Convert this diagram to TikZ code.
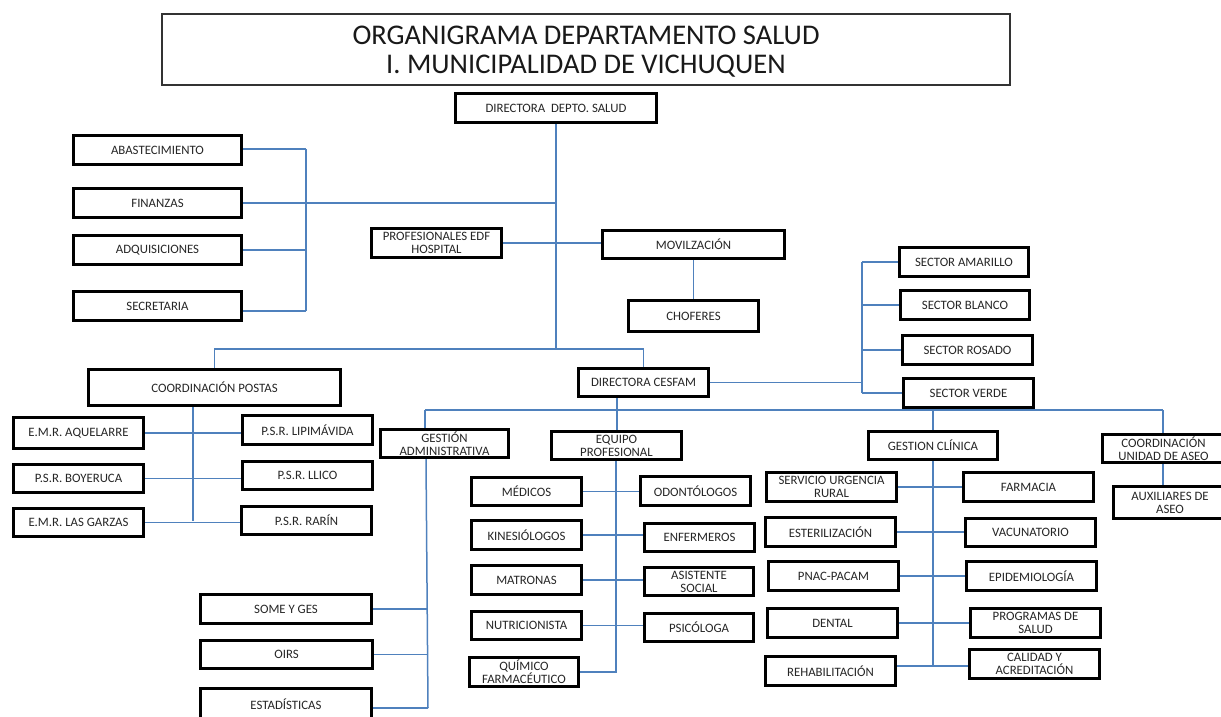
\documentclass[tikz,border=0pt]{standalone}
\usepackage{fontspec}
\setmainfont{Carlito}
\definecolor{lineblue}{HTML}{4F81BD}
\definecolor{txt}{HTML}{262626}
\tikzset{
  bx/.style={draw=black, line width=3pt, fill=white, inner sep=0pt, align=center,
    text=txt, font=\fontsize{12.8}{13.2}\selectfont},
  conn/.style={draw=lineblue, line width=1.5pt},
  titlebox/.style={draw=black!80, line width=1.2pt, align=center, text=black!90,
    font=\fontsize{28.5}{29}\selectfont}
}
\newcommand\ob[6]{\node[bx,minimum width={#4-#2-3},minimum height={#5-#3-3}] (#1) at ({(#2+#4)/2},{(#3+#5)/2}) {#6};}
\begin{document}
\begin{tikzpicture}[x=1pt,y=-1pt]
\useasboundingbox (0,0) rectangle (1221,717);
\node[titlebox, minimum width=848, minimum height=71] (title) at (586,49.5) {\rule{0pt}{22pt}ORGANIGRAMA DEPARTAMENTO SALUD\\I. MUNICIPALIDAD DE VICHUQUEN};
% junction coordinates
\coordinate (t1) at (556,349);
\coordinate (jl) at (306,149);
\coordinate (pv) at (193,521);
\coordinate (sv) at (862,262);
\coordinate (gaj) at (425,410);
\coordinate (gav) at (428,708);
\coordinate (caj) at (1163,410);
\coordinate (gcj) at (933,410);
% connectors (behind boxes)
\draw[conn] (556,124) -- (t1);
\draw[conn] (jl) -- (306,311);
\draw[conn] (243,149) -- (jl);
\draw[conn] (243,203) -- (556,203);
\draw[conn] (243,250) -- (306,250);
\draw[conn] (243,311) -- (306,311);
\draw[conn] (t1) -| (214.5,368);
\draw[conn] (t1) -| (643.5,367);
\draw[conn] (193,407) -- (pv);
\draw[conn] (gaj) -- (caj);
\draw[conn] (617,398) -- (617,430);
\draw[conn] (gaj) -- (425,428);
\draw[conn] (gcj) -- (933,430);
\draw[conn] (caj) -- (1163,485);
\draw[conn] (862,262) -- (862,393);
\draw[conn] (426,459) -- (gav);
\draw[conn] (616,461) -- (616,673);
\draw[conn] (933,461) -- (933,666);
% boxes
\ob{dds}{454}{92}{658}{124}{DIRECTORA~~DEPTO. SALUD}
\ob{abas}{72}{134}{243}{166}{ABASTECIMIENTO}
\ob{fin}{72}{187}{243}{219}{FINANZAS}
\ob{adq}{72}{234}{243}{266}{ADQUISICIONES}
\ob{secr}{72}{290}{243}{322}{SECRETARIA}
\ob{prof}{370}{227}{503}{259}{PROFESIONALES EDF\\HOSPITAL}
\ob{mov}{601}{229}{786}{260}{MOVILZACIÓN}
\ob{chof}{627}{299}{760}{333}{CHOFERES}
\ob{cp}{87}{368}{342}{407}{COORDINACIÓN POSTAS}
\ob{dc}{577}{367}{710}{398}{DIRECTORA CESFAM}
\ob{aq}{12}{416}{145}{450}{E.M.R. AQUELARRE}
\ob{boy}{12}{463}{145}{494}{P.S.R. BOYERUCA}
\ob{garz}{12}{507}{145}{538}{E.M.R. LAS GARZAS}
\ob{lip}{241}{414}{374}{446}{P.S.R. LIPIMÁVIDA}
\ob{llico}{241}{460}{374}{491}{P.S.R. LLICO}
\ob{rarin}{240}{505}{373}{536}{P.S.R. RARÍN}
\ob{sa}{898}{246}{1030}{278}{SECTOR AMARILLO}
\ob{sb}{899}{289}{1031}{321}{SECTOR BLANCO}
\ob{sr}{901}{334}{1034}{366}{SECTOR ROSADO}
\ob{sver}{902}{377}{1035}{409}{SECTOR VERDE}
\ob{ga}{379}{428}{510}{459}{GESTIÓN\\ADMINISTRATIVA}
\ob{ep}{550}{430}{683}{461}{EQUIPO\\PROFESIONAL}
\ob{gc}{867}{430}{999}{461}{GESTION CLÍNICA}
\ob{ca}{1101}{433}{1226}{464}{COORDINACIÓN\\UNIDAD DE ASEO}
\ob{aux}{1112}{485}{1228}{520}{AUXILIARES DE\\ASEO}
\ob{some}{199}{593}{373}{625}{SOME Y GES}
\ob{oirs}{199}{639}{374}{670}{OIRS}
\ob{est}{199}{687}{373}{721}{ESTADÍSTICAS}
\ob{med}{470}{476}{583}{507}{MÉDICOS}
\ob{odo}{639}{475}{752}{507}{ODONTÓLOGOS}
\ob{kin}{470}{519}{583}{551}{KINESIÓLOGOS}
\ob{enf}{643}{522}{756}{553}{ENFERMEROS}
\ob{mat}{470}{564}{583}{596}{MATRONAS}
\ob{asis}{643}{566}{755}{597}{ASISTENTE\\SOCIAL}
\ob{nut}{470}{610}{583}{641}{NUTRICIONISTA}
\ob{psi}{643}{612}{755}{643}{PSICÓLOGA}
\ob{qui}{468}{656}{580}{688}{QUÍMICO\\FARMACÉUTICO}
\ob{sur}{765}{471}{898}{503}{SERVICIO URGENCIA\\RURAL}
\ob{farm}{962}{471}{1095}{503}{FARMACIA}
\ob{este}{764}{516}{897}{548}{ESTERILIZACIÓN}
\ob{vac}{964}{517}{1097}{548}{VACUNATORIO}
\ob{pnac}{767}{560}{900}{592}{PNAC-PACAM}
\ob{epi}{965}{560}{1098}{592}{EPIDEMIOLOGÍA}
\ob{dent}{766}{607}{899}{639}{DENTAL}
\ob{prog}{969}{607}{1102}{639}{PROGRAMAS DE\\SALUD}
\ob{reh}{764}{655}{897}{687}{REHABILITACIÓN}
\ob{cal}{968}{648}{1101}{680}{CALIDAD Y\\ACREDITACIÓN}
% connectors attached by name
\draw[conn] (prof.east) -- (prof.east -| mov.west);
\draw[conn] (mov.south) -- (mov.south |- chof.north);
\draw[conn] (aq.east) -- (aq.east -| lip.west);
\draw[conn] (boy.east) -- (boy.east -| llico.west);
\draw[conn] (garz.east) -- (garz.east -| rarin.west);
\draw[conn] (dc.east) -- (dc.east -| sv);
\draw[conn] (sv) -- (sa.west);
\draw[conn] (sv |- sb.west) -- (sb.west);
\draw[conn] (sv |- sr.west) -- (sr.west);
\draw[conn] (sv |- sver.west) -- (sver.west);
\draw[conn] (some.east) -- (some.east -| gav);
\draw[conn] (oirs.east) -- (oirs.east -| gav);
\draw[conn] ([yshift=-4pt]est.east) -- ([yshift=-4pt]est.east -| gav);
\draw[conn] (med.east) -- (med.east -| odo.west);
\draw[conn] (kin.east) -- (kin.east -| enf.west);
\draw[conn] (mat.east) -- (mat.east -| asis.west);
\draw[conn] (nut.east) -- (nut.east -| psi.west);
\draw[conn] (qui.east) -- (qui.east -| ep.south);
\draw[conn] (sur.east) -- (sur.east -| farm.west);
\draw[conn] (este.east) -- (este.east -| vac.west);
\draw[conn] (pnac.east) -- (pnac.east -| epi.west);
\draw[conn] (dent.east) -- (dent.east -| prog.west);
\draw[conn] ([yshift=5pt]reh.east) -- ([yshift=5pt]reh.east -| cal.west);
\end{tikzpicture}
\end{document}
